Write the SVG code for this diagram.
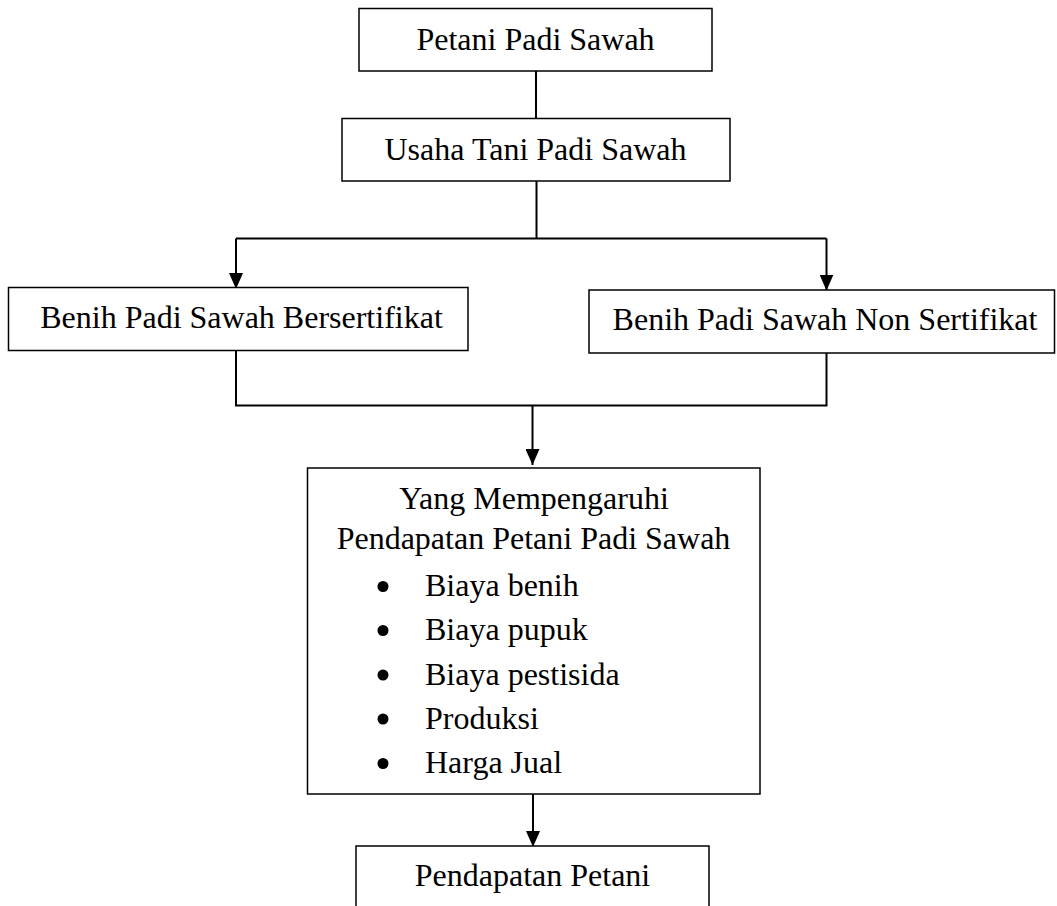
<svg xmlns="http://www.w3.org/2000/svg" width="1057" height="906" viewBox="0 0 1057 906">
  <style>
    .box { fill: #ffffff; stroke: #000000; stroke-width: 1.5; }
    .lbl { font-family: "Liberation Serif", "Times New Roman", serif; font-size: 32px; fill: #000000; }
    .mid { text-anchor: middle; }
    .conn { fill: none; stroke: #000000; stroke-width: 2; }
    .bullet { fill: #000000; }
  </style>
  <defs>
    <marker id="arrow" viewBox="0 0 16 14" refX="16" refY="7" markerWidth="16" markerHeight="14" markerUnits="userSpaceOnUse" orient="auto">
      <path d="M0,0 L16,7 L0,14 Z" fill="#000000"/>
    </marker>
  </defs>
  <rect width="1057" height="906" fill="#ffffff"/>

  <g id="connectors">
    <line class="conn" x1="536" y1="71" x2="536" y2="118"/>
    <line class="conn" x1="536.5" y1="181" x2="536.5" y2="238.5"/>
    <path class="conn" d="M236,238.5 L826.5,238.5"/>
    <path class="conn" d="M236,238.5 L236,289" marker-end="url(#arrow)"/>
    <path class="conn" d="M826.5,238.5 L826.5,290.5" marker-end="url(#arrow)"/>
    <path class="conn" d="M236,350.5 L236,405.5 L826.5,405.5 L826.5,353"/>
    <path class="conn" d="M532.5,405.5 L532.5,465" marker-end="url(#arrow)"/>
    <path class="conn" d="M533,794 L533,847" marker-end="url(#arrow)"/>
  </g>

  <g id="node-petani">
    <rect class="box" x="359" y="8.5" width="353" height="62.5"/>
    <text class="lbl mid" x="535.5" y="49.5">Petani Padi Sawah</text>
  </g>

  <g id="node-usaha">
    <rect class="box" x="342" y="118.5" width="388" height="62.5"/>
    <text class="lbl mid" x="535.5" y="159.5">Usaha Tani Padi Sawah</text>
  </g>

  <g id="node-bersertifikat">
    <rect class="box" x="8.5" y="287.5" width="459.5" height="63"/>
    <text class="lbl mid" x="241.5" y="328">Benih Padi Sawah Bersertifikat</text>
  </g>

  <g id="node-nonsertifikat">
    <rect class="box" x="589" y="290" width="465.5" height="63"/>
    <text class="lbl mid" x="825" y="330">Benih Padi Sawah Non Sertifikat</text>
  </g>

  <g id="node-faktor">
    <rect class="box" x="307.5" y="468" width="452.5" height="326"/>
    <text class="lbl mid" x="534" y="509">Yang Mempengaruhi</text>
    <text class="lbl mid" x="533.5" y="549">Pendapatan Petani Padi Sawah</text>
    <circle class="bullet" cx="383" cy="586.5" r="5.5"/>
    <text class="lbl" x="425" y="596">Biaya benih</text>
    <circle class="bullet" cx="383" cy="630.5" r="5.5"/>
    <text class="lbl" x="425" y="640">Biaya pupuk</text>
    <circle class="bullet" cx="383" cy="675" r="5.5"/>
    <text class="lbl" x="425" y="684.5">Biaya pestisida</text>
    <circle class="bullet" cx="383" cy="719" r="5.5"/>
    <text class="lbl" x="425" y="728.5">Produksi</text>
    <circle class="bullet" cx="383" cy="763.5" r="5.5"/>
    <text class="lbl" x="425" y="773">Harga Jual</text>
  </g>

  <g id="node-pendapatan">
    <rect class="box" x="356" y="846" width="353" height="80"/>
    <text class="lbl mid" x="532.5" y="886">Pendapatan Petani</text>
  </g>
</svg>
